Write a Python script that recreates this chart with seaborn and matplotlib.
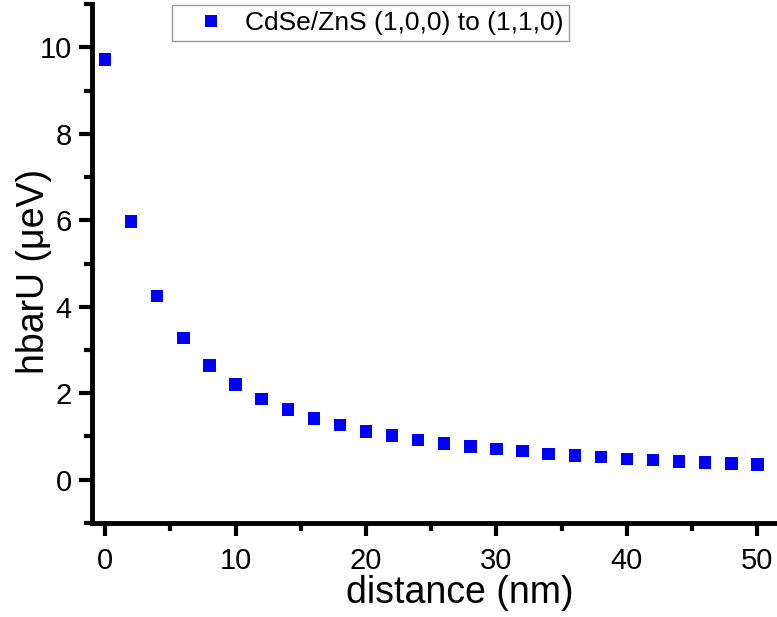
import matplotlib
matplotlib.use("Agg")
import matplotlib.pyplot as plt
from matplotlib.ticker import MultipleLocator
import seaborn as sns
import pandas as pd

distance_nm = [0, 2, 4, 6, 8, 10, 12, 14, 16, 18, 20, 22, 24, 26, 28, 30,
               32, 34, 36, 38, 40, 42, 44, 46, 48, 50]
hbar_u_uev = [9.72, 5.97, 4.25, 3.28, 2.64, 2.20, 1.87, 1.62, 1.42, 1.26,
              1.12, 1.02, 0.92, 0.84, 0.77, 0.71, 0.66, 0.60, 0.56, 0.52,
              0.48, 0.45, 0.42, 0.40, 0.38, 0.35]
series_label = "CdSe/ZnS (1,0,0) to (1,1,0)"

df = pd.DataFrame({"distance": distance_nm, "hbarU": hbar_u_uev,
                   "series": series_label})

sns.set_style("ticks")
plt.rcParams["font.family"] = ["Liberation Sans", "DejaVu Sans"]
plt.rcParams["text.color"] = "black"
plt.rcParams["axes.labelcolor"] = "black"
plt.rcParams["xtick.color"] = "black"
plt.rcParams["ytick.color"] = "black"
plt.rcParams["axes.edgecolor"] = "black"

fig = plt.figure(figsize=(7.77, 6.17), dpi=100)
ax = fig.add_axes([0.1184, 0.1524, 0.8816, 0.841])

sns.scatterplot(data=df, x="distance", y="hbarU", hue="series",
                palette=["#0000FF"], marker="s", s=80, linewidth=0,
                ax=ax, legend=True)

ax.set_xlim(-1, 51.5)
ax.set_ylim(-1, 11)
ax.xaxis.set_major_locator(MultipleLocator(10))
ax.xaxis.set_minor_locator(MultipleLocator(5))
ax.yaxis.set_major_locator(MultipleLocator(2))
ax.yaxis.set_minor_locator(MultipleLocator(1))

for side in ("top", "right"):
    ax.spines[side].set_visible(False)
for side in ("left", "bottom"):
    ax.spines[side].set_linewidth(3.5)
    ax.spines[side].set_color("black")
    ax.spines[side].set_capstyle("projecting")

ax.tick_params(which="major", length=9.5, width=3, labelsize=21,
               direction="out", colors="black")
ax.tick_params(which="minor", length=5.5, width=3, direction="out",
               colors="black")
ax.tick_params(axis="x", which="major", pad=8)
ax.tick_params(axis="y", which="major", pad=5)
for line in ax.xaxis.get_ticklines(minor=True) + ax.yaxis.get_ticklines(minor=True) \
        + ax.xaxis.get_ticklines() + ax.yaxis.get_ticklines():
    line.set_solid_capstyle("round")

ax.set_xlabel("distance (nm)", fontsize=27)
ax.xaxis.set_label_coords(0.537, -0.101)
ax.set_ylabel("hbarU (\u03bceV)", fontsize=27)
ax.yaxis.set_label_coords(-0.058, 0.485)

handles, labels = ax.get_legend_handles_labels()
leg = ax.legend(handles, labels, loc="upper left",
                bbox_to_anchor=(172 / 777, 1 - 5 / 617),
                bbox_transform=fig.transFigure, fontsize=19,
                frameon=True, fancybox=False, borderpad=0.22,
                handlelength=2.5, handletextpad=0.05, markerscale=1.0,
                borderaxespad=0)
leg.get_frame().set_edgecolor("#808080")
leg.get_frame().set_linewidth(1)

fig.savefig("out.png", dpi=100)
